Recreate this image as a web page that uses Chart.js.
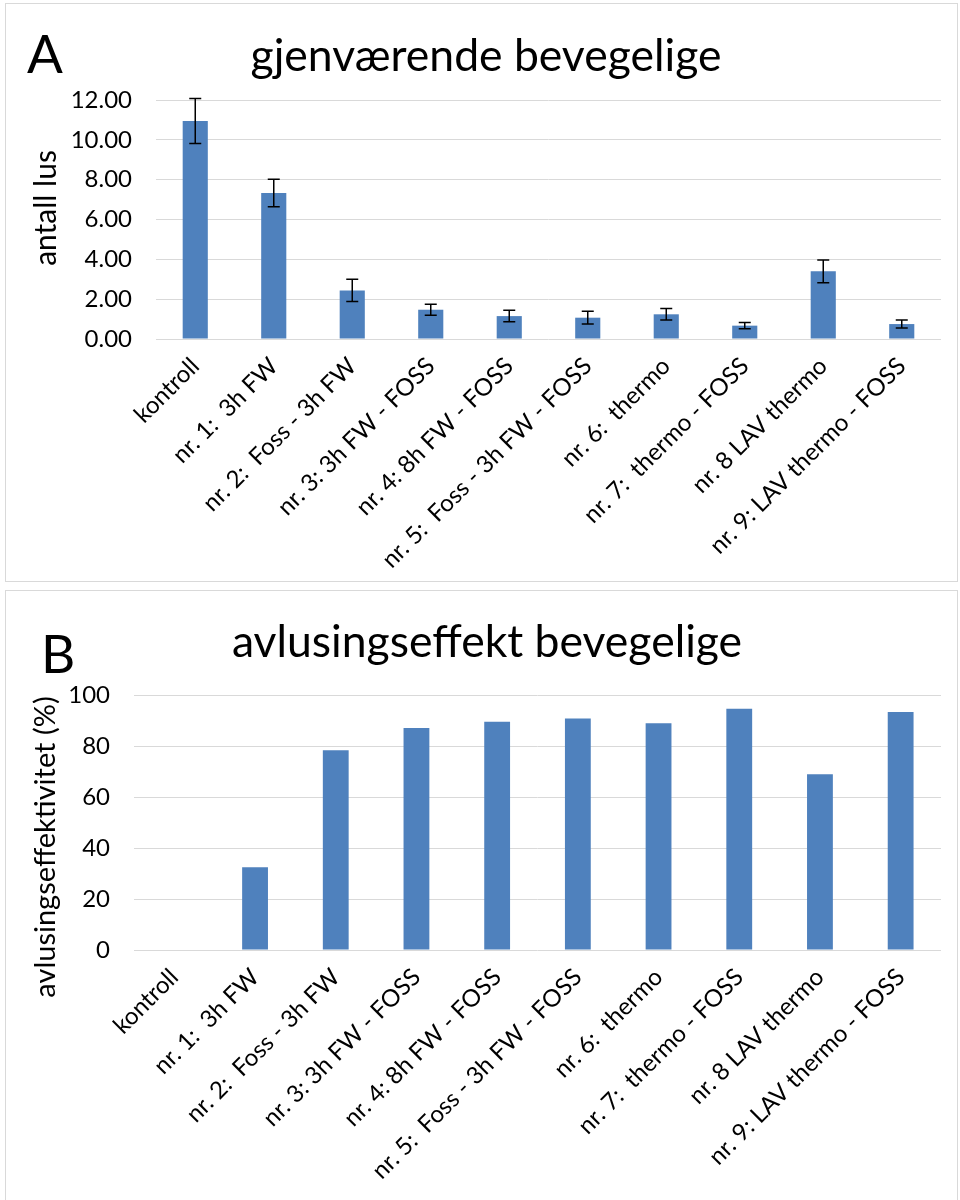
<!DOCTYPE html>
<html><head><meta charset="utf-8">
<script src="https://cdn.jsdelivr.net/npm/chart.js@4.4.1/dist/chart.umd.min.js"></script>
<style>
html,body{margin:0;padding:0;background:#fff;overflow:hidden;width:960px;height:1200px;}
.box{position:absolute;left:5px;width:951px;border:1px solid #d9d9d9;background:#fff;}
#boxA{top:3px;height:577px;}
#boxB{top:590px;height:612px;}
canvas{display:block;}
</style></head><body>
<div class="box" id="boxA"><canvas id="cA" width="951" height="577"></canvas></div>
<div class="box" id="boxB"><canvas id="cB" width="951" height="612"></canvas></div>
<script>
// ---- data ----
const categories = ["kontroll", "nr. 1:  3h FW", "nr. 2:  Foss - 3h FW", "nr. 3: 3h FW - FOSS",
  "nr. 4: 8h FW - FOSS", "nr. 5:  Foss - 3h FW - FOSS", "nr. 6:  thermo", "nr. 7:  thermo - FOSS",
  "nr. 8 LAV thermo", "nr. 9: LAV thermo - FOSS"];
const remainingLice = [10.95, 7.33, 2.44, 1.47, 1.15, 1.07, 1.24, 0.67, 3.40, 0.75];
const remainingLiceErr = [1.13, 0.69, 0.56, 0.28, 0.29, 0.32, 0.29, 0.16, 0.57, 0.20];
const efficacy = [0, 32.5, 78.3, 87.1, 89.5, 90.8, 88.9, 94.6, 68.9, 93.3];
const ticksA = [0, 2, 4, 6, 8, 10, 12];
const ticksB = [0, 20, 40, 60, 80, 100];
const titleA = "gjenværende bevegelige";
const titleB = "avlusingseffekt bevegelige";
const yTitleA = "antall lus";
const yTitleB = "avlusingseffektivitet (%)";

const FONT = "Lato, Carlito, 'Liberation Sans', sans-serif";
const BLUE = "#4f81bd";
const GRID = "#d9d9d9";

// error bars
const errorBars = {
  id: 'errorBars',
  afterDatasetsDraw(chart, args, opts) {
    if (!opts.errors) return;
    const ctx = chart.ctx, meta = chart.getDatasetMeta(0), ys = chart.scales.y;
    const vals = chart.data.datasets[0].data;
    ctx.save();
    ctx.strokeStyle = '#000'; ctx.lineWidth = 1.5;
    meta.data.forEach((bar, i) => {
      const e = opts.errors[i]; if (e == null) return;
      const x = bar.x, yt = ys.getPixelForValue(vals[i] + e), yb = ys.getPixelForValue(vals[i] - e);
      const c = opts.cap;
      ctx.beginPath();
      ctx.moveTo(x, yt); ctx.lineTo(x, yb);
      ctx.moveTo(x - c, yt); ctx.lineTo(x + c, yt);
      ctx.moveTo(x - c, yb); ctx.lineTo(x + c, yb);
      ctx.stroke();
    });
    ctx.restore();
  }
};
// chart title, panel letter + y-axis title
const sideText = {
  id: 'sideText',
  afterDraw(chart, args, o) {
    const ctx = chart.ctx;
    ctx.save();
    ctx.fillStyle = '#000';
    ctx.textBaseline = 'alphabetic';
    ctx.font = `${o.titleSize}px ${FONT}`;
    ctx.textAlign = 'center';
    ctx.fillText(o.title, o.titleX, o.titleY);
    ctx.font = `${o.letterSize}px ${FONT}`;
    ctx.textAlign = 'left';
    ctx.fillText(o.letter, o.letterX, o.letterY);
    ctx.translate(o.yTitleX, o.yTitleY);
    ctx.rotate(-Math.PI / 2);
    ctx.font = `${o.yTitleSize}px ${FONT}`;
    ctx.textAlign = 'center'; ctx.textBaseline = 'middle';
    ctx.fillText(o.yTitle, 0, 0);
    ctx.restore();
  }
};

function makeChart(id, values, yTicks, fmt, padTop, yWidth, xHeight, side, errors) {
  return new Chart(document.getElementById(id), {
    type: 'bar',
    data: { labels: categories, datasets: [{ data: values, backgroundColor: BLUE,
      barPercentage: 0.32, categoryPercentage: 1.0 }] },
    options: {
      responsive: false, animation: false, devicePixelRatio: 1,
      layout: { padding: { top: padTop, right: 16, left: 0, bottom: 0 } },
      plugins: {
        legend: { display: false }, tooltip: { enabled: false }, title: { display: false },
        errorBars: { errors: errors, cap: 6 },
        sideText: side
      },
      scales: {
        x: {
          grid: { display: false }, border: { display: false },
          ticks: { color: '#000', font: { family: FONT, size: 24 }, autoSkip: false,
            minRotation: 45, maxRotation: 45, padding: 5 },
          afterFit: s => { s.height = xHeight; }
        },
        y: {
          min: yTicks[0], max: yTicks[yTicks.length - 1],
          afterBuildTicks: s => { s.ticks = yTicks.map(v => ({ value: v })); },
          grid: { color: GRID, lineWidth: 1, drawTicks: false }, border: { display: false },
          ticks: { color: '#000', font: { family: FONT, size: 24 }, padding: 24,
            callback: v => fmt(v) },
          afterFit: s => { s.width = yWidth; }
        }
      }
    },
    plugins: [errorBars, sideText]
  });
}

makeChart('cA', remainingLice, ticksA, v => v.toFixed(2), 96, 150, 242,
  { title: titleA, titleSize: 44.5, titleX: 480, titleY: 67,
    letter: 'A', letterSize: 53, letterX: 21, letterY: 69,
    yTitle: yTitleA, yTitleSize: 30, yTitleX: 40, yTitleY: 204 },
  remainingLiceErr);
makeChart('cB', efficacy, ticksB, v => String(v), 104, 128, 253,
  { title: titleB, titleSize: 44.5, titleX: 481, titleY: 66,
    letter: 'B', letterSize: 53, letterX: 35, letterY: 82,
    yTitle: yTitleB, yTitleSize: 29, yTitleX: 40, yTitleY: 256 },
  null);
</script>
</body></html>
